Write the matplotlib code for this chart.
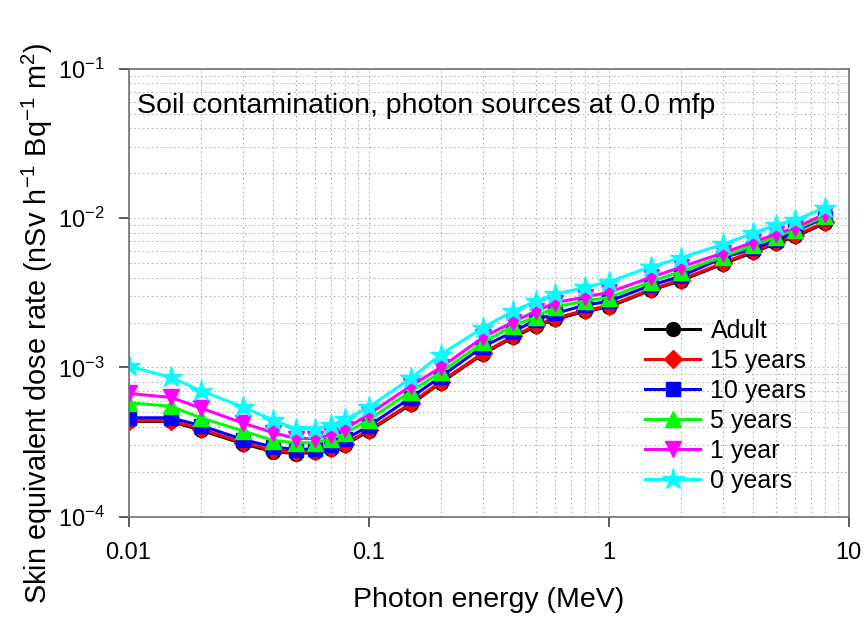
import matplotlib
matplotlib.use("Agg")
import matplotlib.pyplot as plt
from matplotlib.ticker import LogLocator, FixedLocator, FixedFormatter, NullFormatter

plt.rcParams['font.family'] = ['Liberation Sans', 'DejaVu Sans']
plt.rcParams['mathtext.fontset'] = 'custom'
plt.rcParams['mathtext.rm'] = 'Liberation Sans'
plt.rcParams['mathtext.it'] = 'Liberation Sans:italic'
plt.rcParams['mathtext.bf'] = 'Liberation Sans:bold'
plt.rcParams['axes.unicode_minus'] = False

# Photon energy (MeV)
energy = [0.01, 0.015, 0.02, 0.03, 0.04, 0.05, 0.06, 0.07, 0.08, 0.1,
          0.15, 0.2, 0.3, 0.4, 0.5, 0.6, 0.8, 1.0, 1.5, 2.0, 3.0, 4.0,
          5.0, 6.0, 8.0]

# Skin equivalent dose rate (nSv h^-1 Bq^-1 m^2) per age group
adult = [4.35e-4, 4.35e-4, 3.8e-4, 3.08e-4, 2.73e-4, 2.65e-4, 2.7e-4, 2.83e-4,
         3.03e-4, 3.74e-4, 5.65e-4, 7.9e-4, 1.23e-3, 1.59e-3, 1.89e-3, 2.1e-3,
         2.38e-3, 2.54e-3, 3.29e-3, 3.81e-3, 4.94e-3, 5.9e-3, 6.8e-3,
         7.55e-3, 9.25e-3]
y15 = [4.4e-4, 4.4e-4, 3.87e-4, 3.13e-4, 2.78e-4, 2.70e-4, 2.75e-4, 2.87e-4,
       3.08e-4, 3.8e-4, 5.75e-4, 8.05e-4, 1.25e-3, 1.62e-3, 1.92e-3, 2.14e-3,
       2.42e-3, 2.58e-3, 3.34e-3, 3.87e-3, 5.02e-3, 6.0e-3, 6.9e-3, 7.7e-3,
       9.4e-3]
y10 = [4.6e-4, 4.6e-4, 4.08e-4, 3.29e-4, 2.93e-4, 2.82e-4, 2.85e-4, 3.0e-4,
       3.3e-4, 4.05e-4, 6.27e-4, 8.67e-4, 1.38e-3, 1.73e-3, 2.09e-3, 2.3e-3,
       2.62e-3, 2.77e-3, 3.55e-3, 4.08e-3, 5.43e-3, 6.27e-3, 7.1e-3, 8.2e-3,
       1.01e-2]
y5 = [5.8e-4, 5.5e-4, 4.6e-4, 3.76e-4, 3.24e-4, 3.13e-4, 3.13e-4, 3.34e-4,
      3.62e-4, 4.45e-4, 6.9e-4, 9.3e-4, 1.47e-3, 1.9e-3, 2.19e-3, 2.54e-3,
      2.8e-3, 2.94e-3, 3.76e-3, 4.39e-3, 5.54e-3, 6.58e-3, 7.52e-3, 8.4e-3,
      1.04e-2]
y1 = [6.7e-4, 6.3e-4, 5.35e-4, 4.24e-4, 3.66e-4, 3.34e-4, 3.34e-4, 3.55e-4,
      3.87e-4, 4.85e-4, 7.52e-4, 1.0e-3, 1.59e-3, 2.02e-3, 2.39e-3, 2.72e-3,
      2.97e-3, 3.18e-3, 4.01e-3, 4.7e-3, 5.85e-3, 6.9e-3, 7.84e-3, 8.66e-3,
      1.07e-2]
y0 = [1.02e-3, 8.6e-4, 7.0e-4, 5.43e-4, 4.45e-4, 3.87e-4, 3.87e-4, 4.13e-4,
      4.5e-4, 5.4e-4, 8.46e-4, 1.22e-3, 1.85e-3, 2.39e-3, 2.79e-3, 3.09e-3,
      3.45e-3, 3.75e-3, 4.72e-3, 5.43e-3, 6.69e-3, 7.94e-3, 9.04e-3, 9.72e-3,
      1.18e-2]

series = [
    ("Adult", adult, "black", "o", 10),
    ("15 years", y15, "#ff0000", "D", 9.5),
    ("10 years", y10, "#0000ff", "s", 10),
    ("5 years", y5, "#00ff00", "^", 11.5),
    ("1 year", y1, "#ff00ff", "v", 11.5),
    ("0 years", y0, "#00ffff", "*", 16),
]

fig = plt.figure(figsize=(8.64, 6.17), dpi=100)
ax = fig.add_axes([128.5 / 864, 1 - 516.7 / 617, 720 / 864, 447.7 / 617])

for label, vals, color, marker, ms in series:
    ax.plot(energy, vals, color=color, lw=2.2, marker=marker, ms=ms,
            markeredgecolor=color, label=label)

ax.set_xscale("log")
ax.set_yscale("log")
ax.set_xlim(0.01, 10)
ax.set_ylim(1e-4, 1e-1)

ax.xaxis.set_major_locator(FixedLocator([0.01, 0.1, 1, 10]))
ax.xaxis.set_major_formatter(FixedFormatter(["0.01", "0.1", "1", "10"]))
ax.xaxis.set_minor_locator(LogLocator(base=10, subs=range(2, 10)))
ax.xaxis.set_minor_formatter(NullFormatter())
ax.yaxis.set_major_locator(LogLocator(base=10, numticks=10))
ax.yaxis.set_minor_locator(LogLocator(base=10, subs=range(2, 10), numticks=20))
ax.yaxis.set_minor_formatter(NullFormatter())

ax.grid(True, which="both", color="#b4b4b4", lw=0.8, linestyle=(0, (1.5, 2.5)))
ax.set_axisbelow(True)

for side in ["left", "bottom", "top", "right"]:
    ax.spines[side].set_color("#707070")
    ax.spines[side].set_linewidth(1.2)

ax.tick_params(which="major", direction="out", length=7, width=1.2,
               color="#404040", labelsize=17)
ax.tick_params(axis="x", which="major", pad=11)
ax.tick_params(axis="y", which="major", pad=10)
ax.tick_params(which="minor", length=0)
ax.tick_params(top=False, right=False)

ax.set_xlabel("Photon energy (MeV)", fontsize=20.5, labelpad=17)
ax.set_ylabel(r"Skin equivalent dose rate (nSv h$^{-1}$ Bq$^{-1}$ m$^{2}$)",
              fontsize=20.8, va="center")
ax.yaxis.set_label_coords(-0.126, 0.432)

ax.text((137 - 128.5) / 720, 0.918, "Soil contamination, photon sources at 0.0 mfp",
        transform=ax.transAxes, fontsize=20.5, ha="left", va="center")

leg = ax.legend(loc="upper left", bbox_to_anchor=(0.718, 0.442), frameon=False,
                fontsize=18, handlelength=2.2, handletextpad=0.4,
                labelspacing=0.24, borderpad=0, borderaxespad=0)

fig.savefig("out.png", dpi=100)
